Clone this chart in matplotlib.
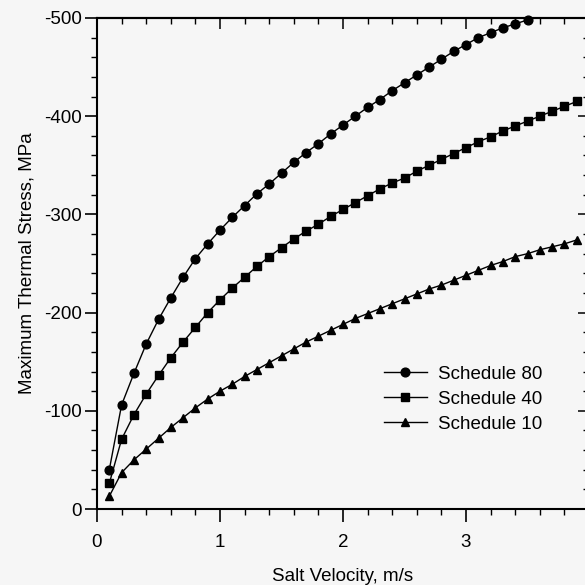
import numpy as np
import matplotlib
matplotlib.use("Agg")
import matplotlib.pyplot as plt
from matplotlib.ticker import MultipleLocator

plt.rcParams['font.family'] = ['Liberation Sans', 'DejaVu Sans']
plt.rcParams['axes.unicode_minus'] = False

# Data
x80 = [0.1, 0.2, 0.3, 0.4, 0.5, 0.6, 0.7, 0.8, 0.9, 1.0, 1.1, 1.2, 1.3, 1.4, 1.5, 1.6, 1.7, 1.8,
       1.9, 2.0, 2.1, 2.2, 2.3, 2.4, 2.5, 2.6, 2.7, 2.8, 2.9, 3.0, 3.1, 3.2, 3.3, 3.4, 3.5]
sched80 = [-40, -106, -138, -168, -193, -215, -236, -255, -270, -284, -297, -309, -321, -331, -342,
           -353, -363, -372, -382, -391, -400, -409, -417, -426, -434, -442, -450, -458, -466,
           -473, -480, -485, -490, -494, -498]

x40 = [0.1, 0.2, 0.3, 0.4, 0.5, 0.6, 0.7, 0.8, 0.9, 1.0, 1.1, 1.2, 1.3, 1.4, 1.5, 1.6, 1.7, 1.8,
       1.9, 2.0, 2.1, 2.2, 2.3, 2.4, 2.5, 2.6, 2.7, 2.8, 2.9, 3.0, 3.1, 3.2, 3.3, 3.4, 3.5, 3.6,
       3.7, 3.8, 3.9]
sched40 = [-26, -71, -96, -117, -136, -154, -170, -185, -200, -213, -225, -236, -247, -257, -266,
           -275, -283, -290, -298, -305, -312, -319, -326, -332, -337, -344, -350, -356, -362,
           -368, -374, -379, -385, -390, -395, -400, -405, -410, -415]

x10 = x40
sched10 = [-13, -37, -50, -61, -72, -83, -93, -103, -112, -120, -127, -135, -142, -149, -156,
           -163, -170, -176, -182, -188, -194, -199, -204, -209, -214, -219, -224, -228, -233,
           -238, -243, -248, -252, -257, -260, -264, -267, -270, -274]

labels = ['Schedule 80', 'Schedule 40', 'Schedule 10']

bg = '#f6f6f6'
fs = 13.5
fig = plt.figure(figsize=(5.85, 5.85), dpi=100, facecolor=bg)
W = H = 585.0
ax = fig.add_axes([97 / W, 76 / H, 492 / W, 491 / H], facecolor=bg)

lw = 1.0
ax.plot(x80, sched80, '-o', color='black', lw=lw, ms=6.3, label=labels[0], clip_on=False, zorder=3)
ax.plot(x40, sched40, '-s', color='black', lw=lw, ms=5.5, label=labels[1], clip_on=False, zorder=3)
ax.plot(x10, sched10, '-^', color='black', lw=lw, ms=5.8, label=labels[2], clip_on=False, zorder=3)

ax.set_xlim(0, 4)
ax.set_ylim(0, -500)

ax.xaxis.set_major_locator(MultipleLocator(1))
ax.xaxis.set_minor_locator(MultipleLocator(0.2))
ax.yaxis.set_major_locator(MultipleLocator(100))
ax.yaxis.set_minor_locator(MultipleLocator(20))
ax.set_xticks([0, 1, 2, 3])
ax.set_xticklabels(['0', '1', '2', '3'])

ax.tick_params(which='major', direction='out', length=9, width=1.2, labelsize=fs)
ax.tick_params(which='minor', direction='out', length=4, width=1.0)
ax.tick_params(axis='x', which='major', pad=9)
ax.tick_params(axis='y', which='major', pad=2)

for s in ax.spines.values():
    s.set_linewidth(1.5)

# top and right ticks pointing inward
secx = ax.secondary_xaxis('top')
secx.xaxis.set_major_locator(MultipleLocator(1))
secx.xaxis.set_minor_locator(MultipleLocator(0.2))
secx.tick_params(which='major', direction='in', length=8, width=1.1, labeltop=False)
secx.tick_params(which='minor', direction='in', length=4, width=1.0)
secx.spines['top'].set_linewidth(1.5)

secy = ax.secondary_yaxis('right')
secy.yaxis.set_major_locator(MultipleLocator(100))
secy.yaxis.set_minor_locator(MultipleLocator(20))
secy.tick_params(which='major', direction='in', length=8, width=1.1, labelright=False)
secy.tick_params(which='minor', direction='in', length=4, width=1.0)

ax.set_xlabel('Salt Velocity, m/s', fontsize=fs, labelpad=12)
ax.set_ylabel('Maximum Thermal Stress, MPa', fontsize=fs, labelpad=6)

leg = ax.legend(loc='center left', bbox_to_anchor=(0.583, 0.224), frameon=False,
                fontsize=fs, handlelength=2.3, handletextpad=0.6, labelspacing=0.42,
                numpoints=1, borderaxespad=0, borderpad=0)

fig.savefig('out.png', dpi=100, facecolor=bg)
